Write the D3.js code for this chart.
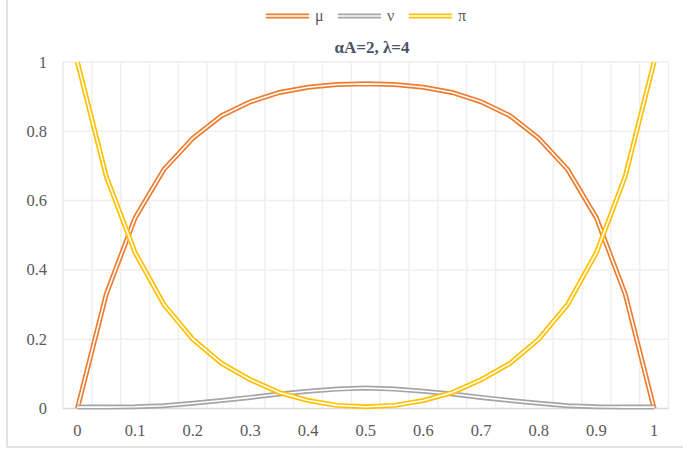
<!DOCTYPE html>
<html><head><meta charset="utf-8">
<script src="https://cdn.jsdelivr.net/npm/d3@7"></script>
<style>body{margin:0;background:#fff}svg{display:block}</style>
</head><body>
<script>
const categories = ["0","0.05","0.1","0.15","0.2","0.25","0.3","0.35","0.4","0.45","0.5","0.55","0.6","0.65","0.7","0.75","0.8","0.85","0.9","0.95","1"];
const muValues = [0,0.33,0.55,0.69,0.78,0.845,0.885,0.912,0.927,0.935,0.937,0.935,0.927,0.912,0.885,0.845,0.78,0.69,0.55,0.33,0];
const nuValues = [0.004,0.004,0.005,0.008,0.015,0.023,0.032,0.042,0.05,0.056,0.059,0.056,0.05,0.042,0.032,0.023,0.015,0.008,0.005,0.004,0.004];
const piValues = [1,0.67,0.45,0.30,0.20,0.13,0.083,0.046,0.023,0.009,0.005,0.009,0.023,0.046,0.083,0.13,0.20,0.30,0.45,0.67,1];
const yTicks = [0,0.2,0.4,0.6,0.8,1];
const xLabels = ["0","0.1","0.2","0.3","0.4","0.5","0.6","0.7","0.8","0.9","1"];
const seriesNames = ["μ","ν","π"];
const colors = ["#ED7D31","#A5A5A5","#FFC000"];
const title = "αA=2, λ=4";

const W=683,H=451;
const svg=d3.select("body").append("svg").attr("width",W).attr("height",H);
const font="'Liberation Serif','Times New Roman',serif";
const L=63,R=668.5,T=62,B=408.5;

svg.append("line").attr("x1",7).attr("x2",7).attr("y1",0).attr("y2",447).attr("stroke","#d9d9d9").attr("stroke-width",1.5);
svg.append("line").attr("x1",7).attr("x2",W).attr("y1",447).attr("y2",447).attr("stroke","#d9d9d9").attr("stroke-width",1.5);

const xb=d3.scaleBand().domain(categories).range([L,R]);
const x=c=>xb(c)+xb.bandwidth()/2;
const y=d3.scaleLinear().domain([0,1]).range([B,T]);

const g=svg.append("g");
g.selectAll(".hg").data(yTicks.filter(v=>v>0)).join("line")
 .attr("x1",L).attr("x2",R).attr("y1",d=>y(d)).attr("y2",d=>y(d)).attr("stroke","#efefef").attr("stroke-width",1.5);
const bounds=categories.map(c=>xb(c)).concat([R]);
g.selectAll(".vg").data(bounds.slice(1,-1)).join("line")
 .attr("x1",d=>d).attr("x2",d=>d).attr("y1",T).attr("y2",B).attr("stroke","#efefef").attr("stroke-width",1.5);
g.append("line").attr("x1",R).attr("x2",R).attr("y1",T).attr("y2",B).attr("stroke","#efefef").attr("stroke-width",1.5);
g.append("line").attr("x1",L).attr("x2",L).attr("y1",T).attr("y2",B).attr("stroke","#e3e3e3").attr("stroke-width",1.2);
g.append("line").attr("x1",L).attr("x2",R).attr("y1",B).attr("y2",B).attr("stroke","#d9d9d9").attr("stroke-width",1.5);

svg.selectAll(".yl").data(yTicks).join("text")
 .attr("x",47).attr("y",d=>y(d)+5.5).attr("text-anchor","end")
 .attr("font-family",font).attr("font-size",16.5).attr("fill","#595959")
 .text(d=>d3.format("~g")(d));
svg.selectAll(".xl").data(xLabels).join("text")
 .attr("x",d=>x(categories.find(c=>+c===+d))).attr("y",436).attr("text-anchor","middle")
 .attr("font-family",font).attr("font-size",16.5).attr("fill","#595959").text(d=>d);

const line=d3.line().x((d,i)=>x(categories[i])).y(d=>y(d));
[muValues,nuValues,piValues].forEach((vals,k)=>{
  svg.append("path").attr("d",line(vals)).attr("fill","none").attr("stroke",colors[k]).attr("stroke-width",5);
  svg.append("path").attr("d",line(vals)).attr("fill","none").attr("stroke","#fff").attr("stroke-width",1.6);
});

svg.append("text").attr("x",372).attr("y",53).attr("text-anchor","middle")
 .attr("font-family",font).attr("font-size",17).attr("font-weight","bold").attr("fill","#4a5264").text(title);

const lx=[266,338,409];
seriesNames.forEach((n,k)=>{
  svg.append("line").attr("x1",lx[k]).attr("x2",lx[k]+43).attr("y1",16).attr("y2",16).attr("stroke",colors[k]).attr("stroke-width",5);
  svg.append("line").attr("x1",lx[k]).attr("x2",lx[k]+43).attr("y1",16).attr("y2",16).attr("stroke","#fff").attr("stroke-width",1.6);
  svg.append("text").attr("x",lx[k]+49).attr("y",21).attr("font-family",font).attr("font-size",16).attr("fill","#595959").text(n);
});
</script>
</body></html>
